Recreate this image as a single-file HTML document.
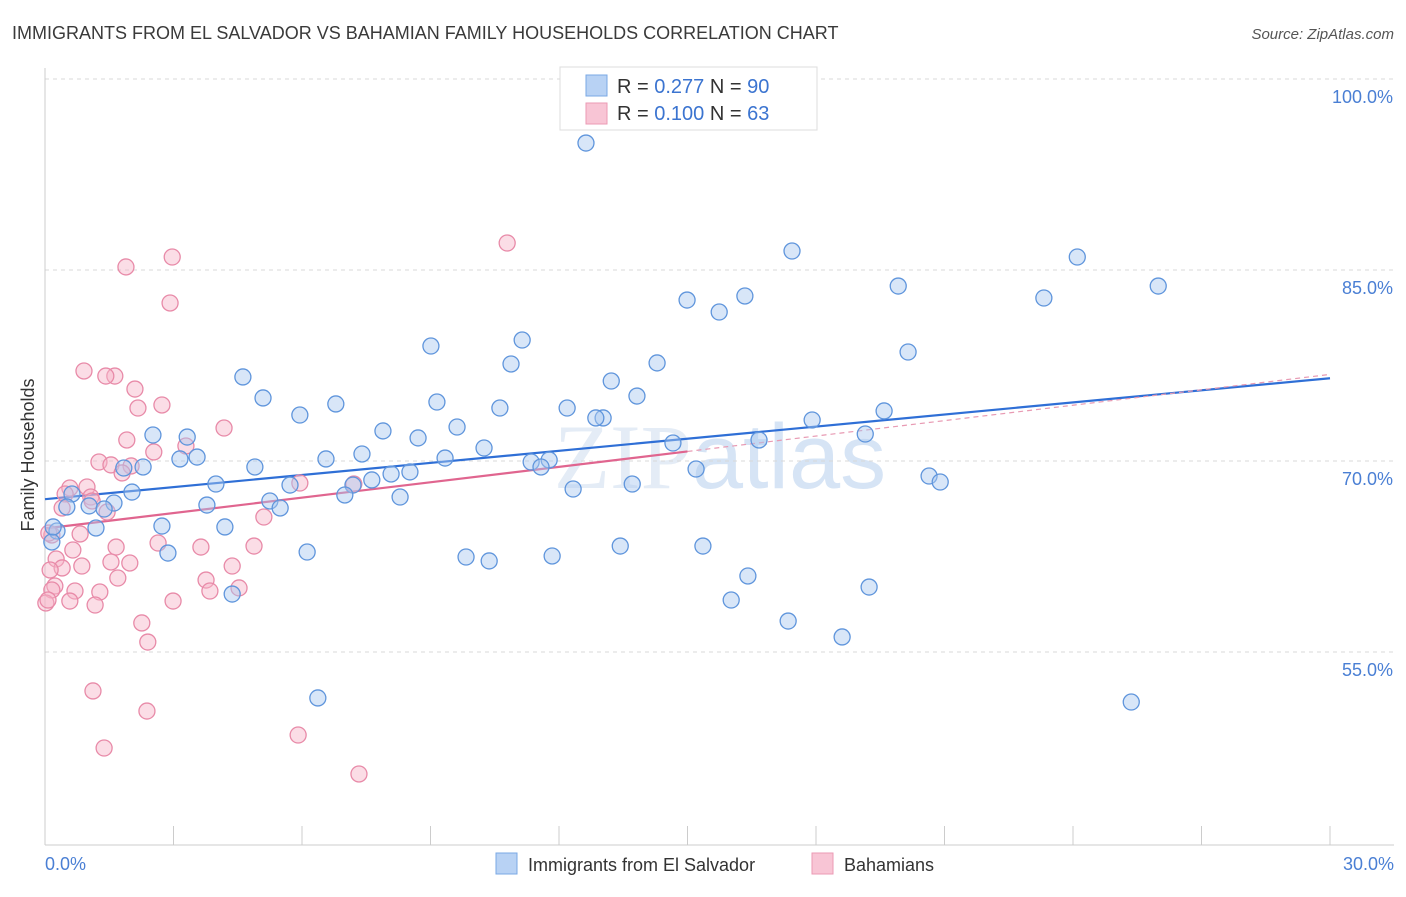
<!DOCTYPE html>
<html><head><meta charset="utf-8"><style>
body{margin:0;background:#fff;font-family:"Liberation Sans",sans-serif;}
</style></head><body>
<svg id="chart" width="1406" height="892" xmlns="http://www.w3.org/2000/svg" style="font-family:'Liberation Sans',sans-serif">
<text x="12" y="39" font-size="18" fill="#3a3a3a">IMMIGRANTS FROM EL SALVADOR VS BAHAMIAN FAMILY HOUSEHOLDS CORRELATION CHART</text>
<text x="1394" y="39" font-size="15" fill="#555" font-style="italic" text-anchor="end">Source: ZipAtlas.com</text>
<text x="720" y="488" font-size="92" fill="#e4ecf6" text-anchor="middle" font-family="Liberation Serif,serif">ZIP<tspan fill="#d6e4f5" font-family="Liberation Sans,sans-serif">atlas</tspan></text>
<text transform="translate(34,455) rotate(-90)" font-size="18" fill="#333" text-anchor="middle">Family Households</text>
<g id="grid"></g><g id="axes"></g><g id="lines"></g><g id="pts"></g>
<g>
<rect x="560" y="67" width="257" height="63" fill="#fff" stroke="#ddd"/>
<rect x="586" y="75" width="21" height="21" fill="#b8d2f4" stroke="#7aa8e4"/>
<text x="617" y="93" font-size="20" fill="#333">R = <tspan fill="#3b74d0">0.277</tspan>   N = <tspan fill="#3b74d0">90</tspan></text>
<rect x="586" y="103" width="21" height="21" fill="#f8c5d5" stroke="#eb9ab4"/>
<text x="617" y="120" font-size="20" fill="#333">R = <tspan fill="#3b74d0">0.100</tspan>   N = <tspan fill="#3b74d0">63</tspan></text>
</g>
<g>
<rect x="496" y="853" width="21" height="21" fill="#b8d2f4" stroke="#7aa8e4"/>
<text x="528" y="871" font-size="18" fill="#333">Immigrants from El Salvador</text>
<rect x="812" y="853" width="21" height="21" fill="#f8c5d5" stroke="#eb9ab4"/>
<text x="844" y="871" font-size="18" fill="#333">Bahamians</text>
</g>
</svg>
<script>
const blueX=[12.63,17.44,24.10,19.92,25.99,14.99,16.34,15.74,23.32,9.01,11.14,20.15,10.88,14.29,4.62,5.09,6.79,5.95,9.15,10.62,13.22,13.82,12.19,13.03,12.86,19.59,17.91,7.89,9.62,8.71,2.52,3.32,19.15,16.67,14.66,10.25,3.55,3.15,7.40,9.34,6.56,11.35,11.77,11.58,15.20,2.29,1.84,4.90,8.52,8.08,7.63,20.64,20.90,13.71,12.33,3.99,5.72,7.19,7.00,8.29,2.03,1.61,1.03,0.63,0.51,1.38,5.25,5.49,3.78,4.20,2.73,1.19,0.28,0.16,13.43,15.36,6.12,2.87,9.83,10.37,11.84,16.41,19.24,4.37,16.02,17.35,18.61,6.37,25.36,0.19];
const blueY=[94.97,86.49,86.02,83.74,83.74,82.64,82.96,81.70,82.80,79.03,79.50,78.56,77.62,77.70,76.60,74.95,74.48,73.61,74.63,74.16,76.28,75.10,74.16,73.38,73.38,73.93,73.22,72.36,72.67,71.81,72.04,71.88,72.12,71.65,71.41,71.02,70.31,70.16,70.55,70.23,70.16,69.92,70.08,69.53,69.37,69.53,69.45,69.53,69.14,68.98,68.51,68.82,68.35,68.19,67.80,68.19,68.11,68.11,67.33,67.17,67.56,66.70,66.47,67.41,66.39,66.23,66.86,66.31,66.54,64.82,64.89,64.74,64.50,63.64,63.32,63.32,62.85,62.77,62.46,62.15,62.54,60.97,60.10,59.55,59.08,57.43,56.18,51.39,51.07,64.82];
const pinkX=[10.79,2.97,1.89,2.92,0.91,1.63,1.42,2.10,2.73,2.17,4.18,1.91,3.29,2.54,1.26,1.54,2.01,1.80,5.95,7.21,0.58,0.98,0.47,1.07,0.40,1.45,1.10,5.11,0.82,0.16,0.09,2.64,4.88,3.64,1.66,0.65,0.26,1.54,1.98,4.37,0.40,0.86,1.70,3.76,4.53,3.85,0.23,0.16,0.70,1.28,2.99,0.58,1.17,0.02,2.26,2.40,1.12,2.38,5.91,1.38,7.33,0.12,0.07];
const pinkY=[87.12,86.02,85.24,82.41,77.07,76.67,76.67,75.65,74.40,74.16,72.59,71.65,71.18,70.71,69.92,69.69,69.61,69.06,68.27,68.19,67.88,67.96,67.41,67.17,66.31,65.99,66.86,65.60,64.27,64.19,64.34,63.56,63.32,63.24,63.24,63.01,62.30,62.07,61.99,61.75,61.60,61.75,60.81,60.65,60.03,59.79,60.18,59.87,59.79,59.71,59.00,59.00,58.69,58.85,57.28,55.78,51.94,50.36,48.48,47.46,45.42,61.44,59.08];
const yTicks=[100,85,70,55];
const yTickLabels=["100.0%","85.0%","70.0%","55.0%"];
const xEnds=[0,30];
const xEndLabels=["0.0%","30.0%"];
const blueTrend=[67.0,76.5];
const pinkTrend=[64.7,76.8];
const pinkSolidEnd=15;

const NS="http://www.w3.org/2000/svg";
const X0=45,X1=1330,YTOP=79,YPX=12.733;
const sx=v=>X0+(v-0)/30*(X1-X0);
const sy=v=>YTOP+(100-v)*YPX;
function mk(tag,attrs,parent){const e=document.createElementNS(NS,tag);for(const k in attrs)e.setAttribute(k,attrs[k]);document.getElementById(parent).appendChild(e);return e;}

yTicks.forEach((t,i)=>{
  const g=mk('line',{x1:X0,x2:1394,y1:sy(t),y2:sy(t),stroke:'#d8d8d8','stroke-dasharray':'4,4'},'grid');
  
  
  const l=mk('text',{x:1393,y:sy(t)+24,'font-size':18,fill:'#4a7fd4','text-anchor':'end'},'grid');
  l.textContent=yTickLabels[i];
  
  
});
const ax=mk('line',{x1:X0,x2:X0,y1:68,y2:845,stroke:'#ccc'},'axes');


const bx=mk('line',{x1:X0,x2:1394,y1:845,y2:845,stroke:'#ccc'},'axes');


for(let v=0;v<=30;v+=3){
  const t=mk('line',{x1:sx(v),x2:sx(v),y1:826,y2:845,stroke:'#ccc'},'axes');
  
  
}
xEnds.forEach((v,i)=>{
  const l=mk('text',{x:i?1394:45,y:870,'font-size':18,fill:'#4a7fd4','text-anchor':i?'end':'start'},'axes');
  l.textContent=xEndLabels[i];
  
  
});

function pts(xs,ys,fill,stroke,name){
  xs.forEach((x,i)=>{
    const c=mk('circle',{cx:sx(x),cy:sy(ys[i]),r:8,fill:fill,'fill-opacity':0.45,stroke:stroke,'stroke-width':1.3},'pts');
    
    
  });
}
pts(pinkX,pinkY,'#f6b3c8','#e88aa8','bahamians-point');
pts(blueX,blueY,'#a9c8f0','#5f95dc','el-salvador-point');

const lerp=(t,x)=>t[0]+(t[1]-t[0])*x/30;
const bl=mk('line',{x1:sx(0),y1:sy(blueTrend[0]),x2:sx(30),y2:sy(blueTrend[1]),stroke:'#2f6fd6','stroke-width':2.2},'lines');


const pl=mk('line',{x1:sx(0),y1:sy(pinkTrend[0]),x2:sx(pinkSolidEnd),y2:sy(lerp(pinkTrend,pinkSolidEnd)),stroke:'#e0658f','stroke-width':2.2},'lines');


const pd=mk('line',{x1:sx(pinkSolidEnd),y1:sy(lerp(pinkTrend,pinkSolidEnd)),x2:sx(30),y2:sy(pinkTrend[1]),stroke:'#e89ab3','stroke-width':1.2,'stroke-dasharray':'5,4'},'lines');


</script>
</body></html>
